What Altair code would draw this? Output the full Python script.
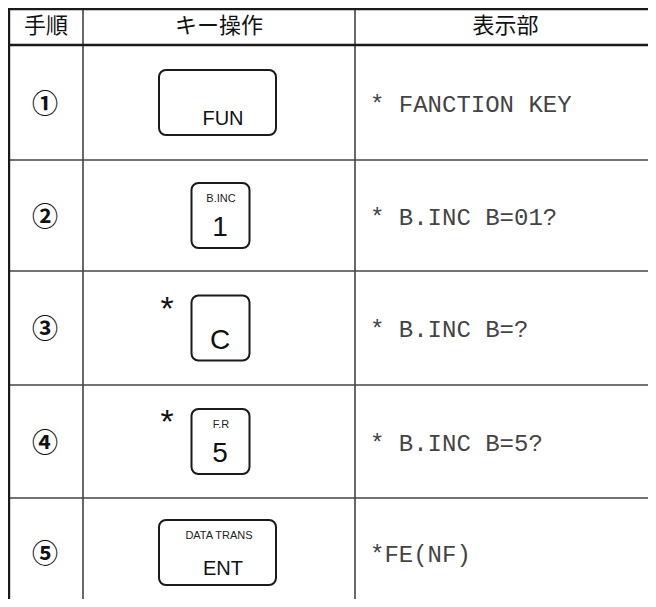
import altair as alt
import pandas as pd

# ---- table content ----
headers = ["手順", "キー操作", "表示部"]
steps = ["①", "②", "③", "④", "⑤"]
key_main = ["FUN", "1", "C", "5", "ENT"]
key_sub = ["", "B.INC", "", "F.R", "DATA TRANS"]
key_wide = [True, False, False, False, True]
key_star = [False, False, True, True, False]
display = ["* FANCTION KEY", "* B.INC B=01?", "* B.INC B=?", "* B.INC B=5?", "*FE(NF)"]

# ---- layout (page pixel space) ----
X0, X1, Y0, Y1 = 8, 648, 8, 599
col_edges = [9, 83, 355]
row_edges = [9, 45, 160, 271, 385, 498, 607]
row_centers = [(row_edges[i + 1] + row_edges[i + 2]) / 2 for i in range(len(steps))]

xs = alt.Scale(domain=[X0, X1], nice=False, zero=False)
ys = alt.Scale(domain=[Y1, Y0], nice=False, zero=False)

def X(f="x"):
    return alt.X(f"{f}:Q", scale=xs, axis=None)

def Y(f="y"):
    return alt.Y(f"{f}:Q", scale=ys, axis=None)

# lines
thick_h = pd.DataFrame({"x": [X0, X0], "x2": [X1, X1], "y": [row_edges[0], row_edges[1]], "y2": [row_edges[0], row_edges[1]]})
thin_h = pd.DataFrame({"x": [X0] * 4, "x2": [X1] * 4, "y": row_edges[2:6], "y2": row_edges[2:6]})
thick_v = pd.DataFrame({"x": [col_edges[0]], "x2": [col_edges[0]], "y": [Y0], "y2": [Y1]})
thin_v = pd.DataFrame({"x": col_edges[1:3], "x2": col_edges[1:3], "y": [row_edges[0]] * 2, "y2": [Y1] * 2})

def rules(df, w, c):
    return alt.Chart(df).mark_rule(strokeWidth=w, color=c).encode(
        x=X(), x2="x2:Q", y=Y(), y2="y2:Q")

layers = [
    rules(thin_h, 1.6, "#444"),
    rules(thin_v, 1.6, "#444"),
    rules(thick_h, 2.4, "#1a1a1a"),
    rules(thick_v, 2.4, "#1a1a1a"),
]

# header
col_centers = [(col_edges[0] + col_edges[1]) / 2, (col_edges[1] + col_edges[2]) / 2, (col_edges[2] + 656) / 2]
hdr = pd.DataFrame({"x": col_centers, "y": [26] * 3, "t": headers})
layers.append(alt.Chart(hdr).mark_text(font="Noto Sans CJK JP", fontSize=22, color="#111",
                                       align="center", baseline="middle").encode(x=X(), y=Y(), text="t:N"))

# step numbers
st = pd.DataFrame({"x": [45] * 5, "y": [c + 2 for c in row_centers], "t": steps})
layers.append(alt.Chart(st).mark_text(font="Noto Sans CJK JP", fontSize=26, fontWeight="bold", color="#111",
                                      align="center", baseline="middle").encode(x=X(), y=Y(), text="t:N"))

# keys
kx, kx2, ky, ky2 = [], [], [], []
for w, c in zip(key_wide, row_centers):
    cx = 217.5 if w else 220.5
    hw = 58.5 if w else 29
    kx.append(cx - hw); kx2.append(cx + hw)
    ky.append(c - 32.5); ky2.append(c + 32.5)
keys = pd.DataFrame({"x": kx, "x2": kx2, "y": ky, "y2": ky2})
layers.append(alt.Chart(keys).mark_rect(cornerRadius=7, fill="white", stroke="#1a1a1a", strokeWidth=2).encode(
    x=X(), x2="x2:Q", y=Y(), y2="y2:Q"))

main_rows = []
for lab, w, c in zip(key_main, key_wide, row_centers):
    main_rows.append({"x": 223 if w else 220, "y": c + (16 if w else 12.5), "t": lab, "s": 20 if w else 28})
mk = pd.DataFrame(main_rows)
layers.append(alt.Chart(mk).mark_text(font="Liberation Sans", color="#111", align="center", baseline="middle").encode(
    x=X(), y=Y(), text="t:N", size=alt.Size("s:Q", scale=None, legend=None)))

sub_rows = [{"x": 219 if w else 221, "y": c - 17, "t": s} for s, w, c in zip(key_sub, key_wide, row_centers) if s]
sk = pd.DataFrame(sub_rows)
layers.append(alt.Chart(sk).mark_text(font="Liberation Sans", fontSize=11, color="#222", align="center",
                                      baseline="middle").encode(x=X(), y=Y(), text="t:N"))

star_rows = [{"x": 167, "y": top + 24, "t": "*"} for top, s in zip(ky, key_star) if s]
stars = pd.DataFrame(star_rows)
layers.append(alt.Chart(stars).mark_text(font="Liberation Sans", fontSize=34, color="#111", align="center",
                                         baseline="alphabetic").encode(x=X(), y=Y(), text="t:N"))

# display texts
dp = pd.DataFrame({"x": [370] * 5, "y": [c + 2 for c in row_centers], "t": display})
layers.append(alt.Chart(dp).mark_text(font="Liberation Mono", fontSize=24, color="#444", align="left",
                                      baseline="middle").encode(x=X(), y=Y(), text="t:N"))

chart = alt.layer(*layers).properties(
    width=X1 - X0, height=Y1 - Y0,
    autosize=alt.AutoSizeParams(type="none"), padding=0, background="white",
).configure_view(stroke=None)

chart.save("out.html", embed_options={"renderer": "svg", "actions": False})
